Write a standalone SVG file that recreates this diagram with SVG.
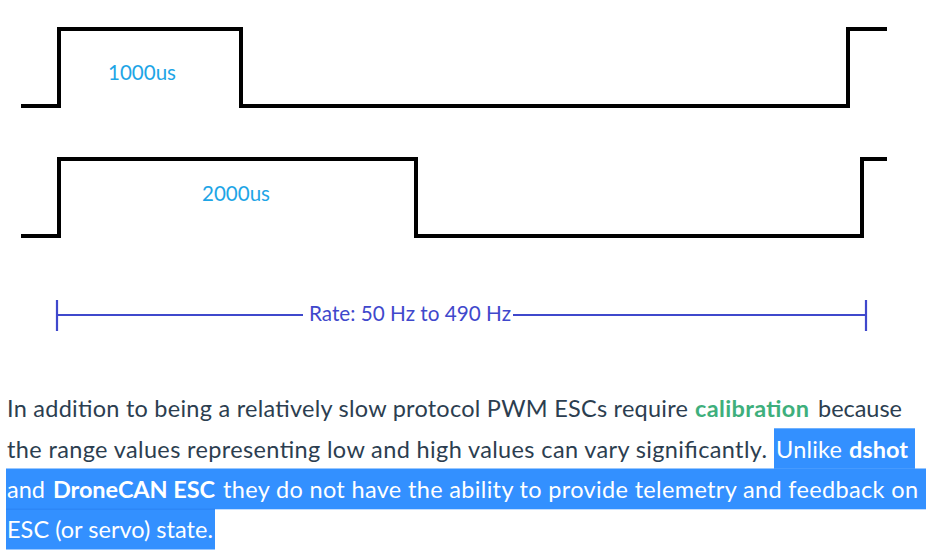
<svg xmlns="http://www.w3.org/2000/svg" width="935" height="554" viewBox="0 0 935 554">
<style>
.wave{fill:none;stroke:#000;stroke-width:4;stroke-linejoin:miter;stroke-linecap:butt}
.rate{fill:none;stroke:#3f48cc;stroke-width:2.2}
.lbl{font-family:Lato,"Open Sans","Liberation Sans",sans-serif;font-size:21.5px;fill:#1ea5e6}
.ratet{font-family:Lato,"Open Sans","Liberation Sans",sans-serif;font-size:21.5px;fill:#3f48cc}
.p{font-family:Lato,"Open Sans","Noto Sans",sans-serif;font-size:23.5px;fill:#2c3e50}
.link{fill:#3eaf7c;font-weight:700}
.sel{fill:#fff}
.b{font-weight:700}
.hl{fill:#3390ff}
</style>
<rect width="935" height="554" fill="#fff"/>
<g id="connectors">
<path id="wave1000" class="wave" d="M21,106 H59 V29 H241 V106 H848 V29 H887"/>
<path id="wave2000" class="wave" d="M21,236 H59 V159 H416 V236 H862 V159 H887"/>
<path id="rate-line" class="rate" d="M57,300 V331 M57,315 H303 M513,315 H866 M866,300 V331"/>
</g>
<g id="label-1000us"><text class="lbl" x="108" y="79.5" textLength="68" lengthAdjust="spacingAndGlyphs">1000us</text></g>
<g id="label-2000us"><text class="lbl" x="202" y="201" textLength="68" lengthAdjust="spacingAndGlyphs">2000us</text></g>
<g id="label-rate"><text class="ratet" x="309" y="320.5" textLength="202" lengthAdjust="spacingAndGlyphs">Rate: 50 Hz to 490 Hz</text></g>
<g id="paragraph">
<rect class="hl" x="774" y="428.3" width="141" height="40.5"/>
<rect class="hl" x="6" y="468.5" width="920" height="40.8"/>
<rect class="hl" x="6" y="509" width="209" height="40.5"/>
<line x1="6" y1="509.2" x2="215" y2="509.2" stroke="#2a80f0" stroke-width="0.8"/>
<text class="p" x="7" y="417" textLength="681" lengthAdjust="spacing">In addition to being a relatively slow protocol PWM ESCs require</text>
<text class="p link" x="695" y="417" textLength="114" lengthAdjust="spacing">calibration</text>
<text class="p" x="818" y="417" textLength="84" lengthAdjust="spacing">because</text>
<text class="p" x="7" y="457.5" textLength="760" lengthAdjust="spacing">the range values representing low and high values can vary significantly.</text>
<text class="p sel" x="776" y="457.5" textLength="66" lengthAdjust="spacing">Unlike</text>
<text class="p sel b" x="849" y="457.5" textLength="59" lengthAdjust="spacing">dshot</text>
<text class="p sel" x="7" y="498" textLength="38" lengthAdjust="spacing">and</text>
<text class="p sel b" x="53" y="498" textLength="162" lengthAdjust="spacing">DroneCAN ESC</text>
<text class="p sel" x="223" y="498" textLength="695" lengthAdjust="spacing">they do not have the ability to provide telemetry and feedback on</text>
<text class="p sel" x="7" y="538.3" textLength="206" lengthAdjust="spacing">ESC (or servo) state.</text>
</g>
</svg>
